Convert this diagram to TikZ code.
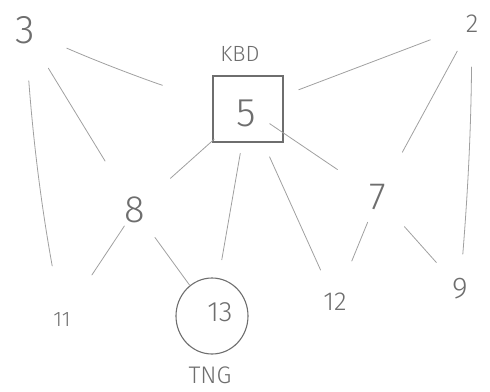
\documentclass[tikz,border=0pt]{standalone}
\usepackage{fontspec}
\setmainfont{Fira Sans Light}
\usetikzlibrary{shapes.geometric}
\definecolor{pencil}{RGB}{110,110,110}
\definecolor{pencillight}{RGB}{160,160,160}
\tikzset{
  num/.style={text=pencil, inner sep=0pt, font=\fontsize{#1}{#1}\selectfont},
  num/.default=26,
  link/.style={draw=pencillight, line width=0.8pt, line cap=round},
  boxnode/.style={draw=pencil, line width=1.1pt, minimum width=70pt, minimum height=66pt, inner sep=0pt},
  ringnode/.style={draw=pencil, line width=1.1pt, ellipse, minimum width=72pt, minimum height=76pt, inner sep=0pt}
}
\begin{document}
\begin{tikzpicture}[x=1pt, y=-1pt]
  \useasboundingbox (0,0) rectangle (490,391);
  % nodes
  \node[num=40] (n3) at (25,30) {3};
  \node[num=26] (n2) at (472,24) {2};
  \node[num=22, text=pencil] (kbd) at (240,54) {KBD};
  \node[boxnode] (box) at (248,109) {};
  \node[num=40] (n5) at (246,113) {5};
  \node[num=38] (n8) at (135,210) {8};
  \node[num=38] (n7) at (378,197) {7};
  \node[num=21] (n11) at (62,320) {11};
  \node[ringnode] (ring) at (212,316) {};
  \node[num=28] (n13) at (220,312) {13};
  \node[num=24] (tng) at (210,375) {TNG};
  \node[num=26] (n12) at (335,302) {12};
  \node[num=30] (n9) at (460,289) {9};
  % connectors
  \draw[link, shorten <=45.5pt, shorten >=88.8pt] (n3.center) to[bend right=4] (box.center);
  \draw[link, shorten <=44.8pt, shorten >=57.3pt] (n3.center) -- (n8.center);
  \draw[link, shorten <=51pt, shorten >=55pt] (n3.center) to[bend right=3] (n11.center);
  \draw[link, shorten <=44.6pt, shorten >=54.3pt] (n2.center) -- (box.center);
  \draw[link, shorten <=30.9pt, shorten >=51pt] (n2.center) -- (n7.center);
  \draw[link, shorten <=43pt, shorten >=35pt] (n2.center) to[bend left=2] (n9.center);
  \draw[link, shorten <=45.3pt, shorten >=47.4pt] (box.center) -- (n8.center);
  \draw[link, shorten <=45pt, shorten >=57pt] (box.center) -- (ring.center);
  \draw[link, shorten <=52.5pt, shorten >=35pt] (box.center) -- (n12.center);
  \draw[link, shorten <=26.2pt, shorten >=49pt] (box.center) -- (n7.center);
  \draw[link, shorten <=19.2pt, shorten >=54.1pt] (n8.center) -- (n11.center);
  \draw[link, shorten <=34pt, shorten >=38.1pt] (n8.center) -- (ring.center);
  \draw[link, shorten <=27.3pt, shorten >=44.2pt] (n7.center) -- (n12.center);
  \draw[link, shorten <=39.8pt, shorten >=35.5pt] (n7.center) -- (n9.center);
\end{tikzpicture}
\end{document}
